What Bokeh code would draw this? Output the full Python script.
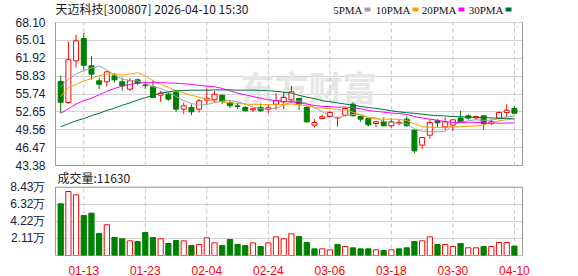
from bokeh.plotting import figure
from bokeh.models import FixedTicker, Range1d, Label, ColumnDataSource
from bokeh.embed import file_html
from bokeh.resources import INLINE

# ---------------- data ----------------
dates = ["01-08", "01-09", "01-12", "01-13", "01-14", "01-15", "01-16", "01-19", "01-20", "01-21",
         "01-22", "01-23", "01-26", "01-27", "01-28", "01-29", "01-30", "02-02", "02-03", "02-04",
         "02-05", "02-06", "02-09", "02-10", "02-11", "02-12", "02-13", "02-24", "02-25", "02-26",
         "02-27", "03-02", "03-03", "03-04", "03-05", "03-06", "03-09", "03-10", "03-11", "03-12",
         "03-13", "03-16", "03-17", "03-18", "03-19", "03-20", "03-23", "03-24", "03-25", "03-26",
         "03-27", "03-30", "03-31", "04-01", "04-02", "04-03", "04-07", "04-08", "04-09", "04-10"]

opens = [57.90, 54.27, 61.47, 65.33, 60.61, 58.02, 57.84, 58.88, 57.84, 56.58,
         58.19, 57.30, 56.98, 55.54, 55.71, 56.00, 53.12, 53.41, 53.12, 54.70,
         54.73, 55.54, 54.27, 53.70, 53.41, 53.00, 53.41, 53.12, 53.98, 54.39,
         54.73, 54.96, 53.41, 50.35, 51.50, 51.85, 51.60, 52.08, 53.98, 51.85,
         51.51, 50.64, 50.93, 50.24, 50.70, 51.39, 49.49, 46.90, 48.62, 51.10,
         50.06, 50.35, 51.57, 51.97, 51.62, 51.97, 50.70, 51.57, 52.54, 53.23]
highs = [58.94, 64.82, 65.97, 66.30, 62.34, 58.59, 59.75, 59.34, 58.59, 58.42,
         58.42, 57.90, 58.19, 56.29, 56.00, 56.29, 54.27, 53.98, 54.85, 56.69,
         56.29, 55.60, 54.73, 54.27, 53.70, 53.41, 54.10, 53.98, 55.88, 56.00,
         57.15, 55.00, 53.70, 51.39, 52.20, 52.83, 51.80, 53.41, 54.27, 51.90,
         51.68, 51.10, 51.68, 51.51, 51.39, 51.85, 49.66, 48.30, 51.39, 51.39,
         51.68, 51.39, 52.83, 52.25, 51.97, 52.00, 51.39, 52.72, 53.98, 53.58]
lows = [52.43, 53.98, 60.32, 59.75, 58.19, 56.58, 57.04, 57.73, 56.29, 56.29,
        57.27, 56.60, 55.10, 54.39, 54.56, 52.66, 52.25, 52.08, 52.54, 53.85,
        54.27, 53.98, 53.29, 53.12, 52.72, 52.66, 52.72, 52.43, 53.00, 53.12,
        54.27, 53.00, 50.70, 49.95, 51.39, 51.68, 50.10, 51.85, 51.85, 50.93,
        50.12, 50.07, 50.20, 49.95, 50.35, 50.12, 45.51, 46.20, 48.05, 49.95,
        49.49, 49.37, 50.90, 51.28, 51.39, 49.55, 50.35, 51.39, 51.68, 52.40]
closes = [54.30, 61.65, 64.93, 60.72, 59.17, 57.44, 59.57, 58.19, 57.15, 58.02,
          57.61, 57.20, 55.14, 55.88, 54.85, 53.12, 53.70, 52.66, 54.56, 55.00,
          55.71, 54.44, 53.70, 53.60, 52.83, 53.20, 52.83, 53.35, 54.56, 55.14,
          56.12, 53.98, 50.93, 50.81, 51.80, 52.54, 51.70, 53.23, 51.97, 51.39,
          50.41, 50.93, 50.24, 50.93, 50.85, 50.24, 45.92, 48.22, 50.81, 50.75,
          50.93, 51.28, 50.93, 51.57, 51.85, 50.64, 50.93, 52.54, 52.95, 52.43]

# volume in 万 (10k)
volumes = [6.38, 7.90, 7.49, 4.94, 5.23, 2.72, 3.79, 2.22, 2.06, 1.81,
           1.73, 2.84, 2.22, 2.06, 1.48, 1.85, 1.81, 1.23, 1.36, 2.18,
           1.56, 1.23, 1.98, 1.36, 1.23, 1.56, 1.11, 1.56, 2.30, 2.06,
           2.67, 2.35, 1.60, 0.82, 0.82, 0.70, 1.36, 1.11, 0.95, 0.82,
           0.82, 0.70, 0.62, 0.70, 0.82, 0.95, 1.73, 1.81, 2.30, 1.36,
           1.36, 1.11, 1.48, 0.95, 0.95, 1.11, 1.11, 1.60, 1.60, 1.163]

ma5 = [57.0, 58.3, 59.2, 59.8, 60.2, 60.6, 59.9, 59.0, 58.3, 58.1,
       58.0, 57.6, 57.0, 56.7, 56.1, 55.3, 54.6, 54.1, 53.8, 53.9,
       54.3, 54.5, 54.6, 54.4, 54.0, 53.5, 53.2, 53.1, 53.3, 53.8,
       54.4, 54.6, 54.1, 53.4, 52.7, 52.0, 51.6, 52.0, 52.2, 52.2,
       51.7, 51.6, 51.0, 50.8, 50.7, 50.6, 49.7, 49.3, 49.2, 49.2,
       49.3, 50.4, 50.9, 51.1, 51.3, 51.2, 51.2, 51.5, 51.8, 51.9]
ma10 = [55.3, 56.8, 57.4, 58.0, 58.4, 58.9, 59.2, 59.2, 59.0, 59.2,
        59.4, 58.9, 58.0, 57.4, 56.9, 56.3, 55.9, 55.5, 55.2, 54.85,
        54.5, 54.35, 54.25, 54.1, 54.0, 53.95, 53.9, 53.9, 53.9, 53.95,
        54.0, 53.9, 53.7, 53.4, 53.3, 53.2, 53.05, 53.0, 52.6, 52.1,
        51.6, 51.45, 51.4, 51.4, 51.35, 51.15, 50.6, 50.1, 50.0, 49.95,
        50.0, 50.05, 50.1, 50.15, 50.2, 50.4, 50.8, 51.1, 51.3, 51.5]
ma20 = [52.4, 53.2, 54.0, 54.6, 55.0, 55.6, 56.2, 56.7, 57.1, 57.4,
        57.6, 57.7, 57.7, 57.7, 57.65, 57.6, 57.5, 57.4, 57.2, 57.1,
        57.0, 56.7, 56.3, 55.9, 55.6, 55.3, 55.0, 54.75, 54.6, 54.45,
        54.4, 54.2, 54.0, 53.75, 53.6, 53.55, 53.45, 53.5, 53.35, 53.2,
        52.9, 52.75, 52.6, 52.45, 52.35, 52.2, 51.85, 51.6, 51.4, 51.2,
        50.95, 50.8, 50.8, 50.85, 50.85, 50.75, 50.7, 50.7, 50.72, 50.75]
ma30 = [50.1, 50.6, 51.1, 51.5, 52.0, 52.4, 52.9, 53.3, 53.8, 54.2,
        54.7, 55.1, 55.5, 55.9, 56.1, 56.3, 56.35, 56.4, 56.4, 56.4,
        56.45, 56.45, 56.45, 56.4, 56.4, 56.4, 56.35, 56.3, 56.2, 56.05,
        55.9, 55.5, 55.2, 54.95, 54.6, 54.4, 54.2, 54.0, 53.8, 53.6,
        53.4, 53.25, 53.05, 52.85, 52.65, 52.5, 52.4, 52.25, 52.1, 52.0,
        51.95, 51.85, 51.8, 51.75, 51.72, 51.65, 51.6, 51.55, 51.5, 51.45]

price_ticks = [43.38, 46.47, 49.56, 52.65, 55.74, 58.83, 61.92, 65.01, 68.10]
vol_ticks = [0, 2.11, 4.22, 6.32, 8.43]
vol_tick_labels = ["0", "2.11万", "4.22万", "6.32万", "8.43万"]
x_tick_labels = ["01-13", "01-23", "02-04", "02-24", "03-06", "03-18", "03-30", "04-10"]

title_text = "天迈科技[300807] 2026-04-10 15:30"
ma_names = ["5PMA", "10PMA", "20PMA", "30PMA"]

# ---------------- layout (pixels) ----------------
FL, FR, FB = 54, 523, 255          # frame left/right/bottom px (frame top = 0)
MAIN_TOP_PX, MAIN_BOT_PX = 22, 165
VOL_TOP_PX = 186.7
STEP, X0_PX = 7.69, 60.2

k = (price_ticks[-1] - price_ticks[0]) / (MAIN_BOT_PX - MAIN_TOP_PX)
y_lo = price_ticks[0] - (FB - MAIN_BOT_PX) * k
y_hi = price_ticks[-1] + MAIN_TOP_PX * k
kv = vol_ticks[-1] / (FB - VOL_TOP_PX)
v_hi = vol_ticks[-1] + VOL_TOP_PX * kv


def px_x(px):
    return (px - X0_PX) / STEP


def py_y(py):
    return price_ticks[-1] - (py - MAIN_TOP_PX) * k


def v2y(v):
    return round(y_lo + v / kv * k, 6)


RED = "#ff0000"
GREEN = "#008000"
GRID = "#d2d2d2"
BORDER = "#9a9a9a"
MA_COLORS = ["#a0a0a0", "#f5a300", "#ff00ff", "#00703a"]

p = figure(frame_width=FR - FL, frame_height=FB,
           min_border_left=FL, min_border_right=578 - FR,
           min_border_top=0, min_border_bottom=276 - FB,
           x_range=Range1d(px_x(FL), px_x(FR)),
           y_range=Range1d(y_lo, y_hi),
           output_backend="svg", toolbar_location=None, tools="")
p.extra_y_ranges = {"vol": Range1d(0, v_hi)}
p.outline_line_color = None
p.background_fill_color = "white"
p.border_fill_color = "white"

# axes / grid
y_ticks_all = price_ticks + [v2y(v) for v in vol_ticks]
overrides = {t: f"{t:.2f}" for t in price_ticks}
for v, lab in zip(vol_ticks, vol_tick_labels):
    overrides[v2y(v)] = lab
p.yaxis.ticker = FixedTicker(ticks=y_ticks_all)
p.yaxis.major_label_overrides = overrides
p.yaxis.axis_line_color = None
p.yaxis.major_tick_line_color = None
p.yaxis.minor_tick_line_color = None
p.yaxis.major_label_standoff = 3
p.yaxis.major_label_text_font = "Liberation Sans"
p.yaxis.major_label_text_font_size = "12px"
p.yaxis.major_label_text_color = "#20203a"

x_ticks = [dates.index(lab) for lab in x_tick_labels]
p.xaxis.ticker = FixedTicker(ticks=x_ticks)
p.xaxis.major_label_overrides = {i: dates[i] for i in x_ticks}
p.xaxis.axis_line_color = None
p.xaxis.major_tick_line_color = None
p.xaxis.minor_tick_line_color = None
p.xaxis.major_label_standoff = 4
p.xaxis.major_label_text_font = "Liberation Sans"
p.xaxis.major_label_text_font_size = "12px"
p.xaxis.major_label_text_color = RED

p.xgrid.visible = False
p.ygrid.ticker = FixedTicker(ticks=y_ticks_all)
p.ygrid.grid_line_color = GRID

# watermark
p.add_layout(Label(x=px_x(240), y=py_y(86), text="东方财富", text_font="Noto Sans CJK SC",
                   text_font_size="34px", text_font_style="bold", text_color="#e6e6e6",
                   text_baseline="middle", level="underlay"))

# vertical dashed grid (two panels)
p.segment(x0=x_ticks, x1=x_ticks, y0=[price_ticks[0]] * len(x_ticks), y1=[price_ticks[-1]] * len(x_ticks),
          line_color="#c4c4c4", line_dash="4 3", line_width=1)
p.segment(x0=x_ticks, x1=x_ticks, y0=[0] * len(x_ticks), y1=[vol_ticks[-1]] * len(x_ticks),
          line_color="#c4c4c4", line_dash="4 3", line_width=1, y_range_name="vol")

# panel borders
bl, br = px_x(FL + 1), px_x(FR - 1)
p.segment(x0=[bl, br, bl], x1=[bl, br, br],
          y0=[price_ticks[0], price_ticks[0], price_ticks[0]],
          y1=[price_ticks[-1], price_ticks[-1], price_ticks[0]],
          line_color=BORDER, line_width=1)
p.segment(x0=[bl, br, bl, bl], x1=[bl, br, br, br],
          y0=[0, 0, 0, vol_ticks[-1]], y1=[vol_ticks[-1], vol_ticks[-1], 0, vol_ticks[-1]],
          line_color=BORDER, line_width=1, y_range_name="vol")

# candles
idx = list(range(len(dates)))
up = [c > o for o, c in zip(opens, closes)]
vol_up = [closes[0] >= opens[0]] + [closes[i] >= closes[i - 1] for i in range(1, len(closes))]
src = ColumnDataSource(dict(
    x=idx, o=opens, h=highs, l=lows, c=closes, vol=volumes,
    top=[max(o, c) for o, c in zip(opens, closes)],
    bot=[min(o, c) for o, c in zip(opens, closes)],
    col=[RED if u else GREEN for u in up],
    fill=["white" if u else GREEN for u in up],
    vcol=[RED if u else GREEN for u in vol_up],
    vfill=["white" if u else GREEN for u in vol_up],
))
p.segment(x0="x", x1="x", y0="l", y1="h", line_color="col", line_width=1, source=src)
p.vbar(x="x", width=0.65, top="top", bottom="bot", fill_color="fill", line_color="col",
       line_width=1, source=src)

# moving averages
for ma, colr in zip([ma5, ma10, ma20, ma30], MA_COLORS):
    p.line(idx, ma, line_color=colr, line_width=1)

# volume bars
p.vbar(x="x", width=0.68, top="vol", bottom=0, fill_color="vfill", line_color="vcol",
       line_width=1, source=src, y_range_name="vol")

# header texts
p.add_layout(Label(x=px_x(55), y=py_y(8), text=title_text, text_font="Noto Sans CJK SC",
                   text_font_size="12px", text_color="#1a1a1a", text_baseline="middle"))
marker_left_px = [364, 412, 458, 505]
for name, colr, ml in zip(ma_names, MA_COLORS, marker_left_px):
    p.add_layout(Label(x=px_x(ml - 2), y=py_y(9), text=name, text_font="Liberation Serif",
                       text_font_size="11px", text_color="#111111", text_align="right",
                       text_baseline="middle"))
    p.quad(left=[px_x(ml)], right=[px_x(ml + 6)], top=[py_y(7)], bottom=[py_y(11)],
           fill_color=colr, line_color=None)

p.add_layout(Label(x=px_x(57), y=py_y(177), text=f"成交量:{round(volumes[-1] * 10000)}",
                   text_font="Noto Sans CJK SC", text_font_size="12px", text_color="#1a1a1a",
                   text_baseline="middle"))

open("out.html", "w").write(file_html(p, INLINE))
